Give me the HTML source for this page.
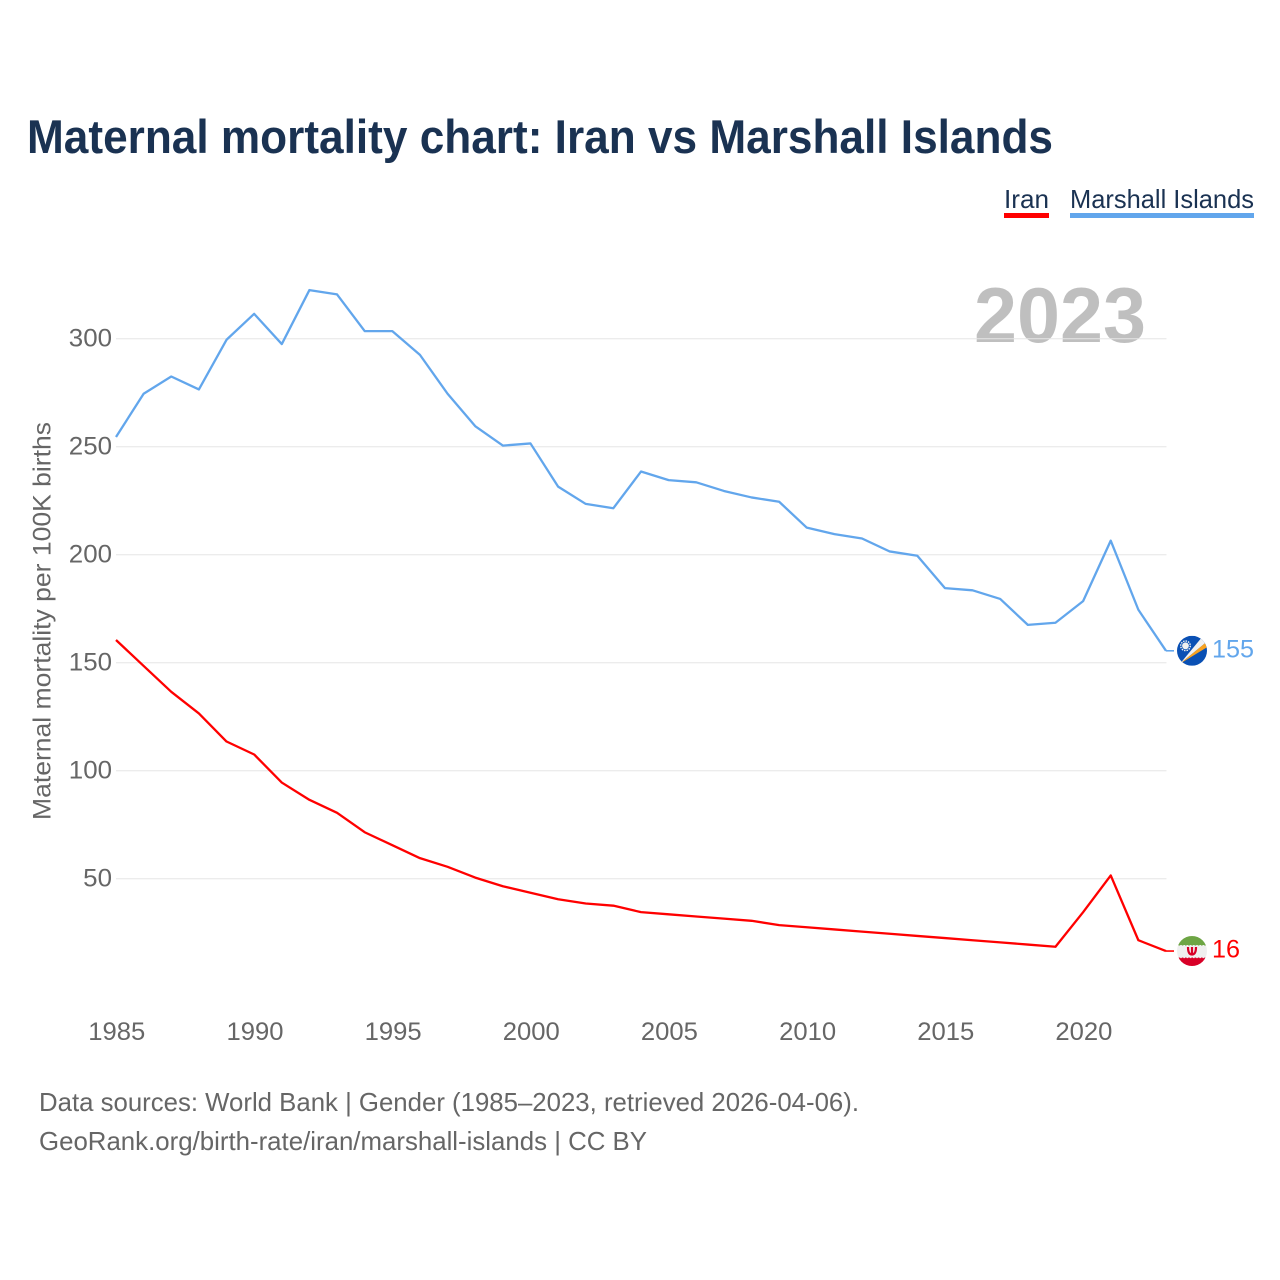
<!DOCTYPE html>
<html lang="en">
<head>
<meta charset="utf-8">
<title>Maternal mortality chart: Iran vs Marshall Islands</title>
<style>
  html, body { margin: 0; padding: 0; background: #fff; }
  svg { display: block; font-family: "Liberation Sans", sans-serif; }
</style>
</head>
<body>
<svg id="chart" xmlns="http://www.w3.org/2000/svg" width="1280" height="1280" viewBox="0 0 1280 1280">
  <defs>
    <clipPath id="flag-clip"><circle cx="0" cy="0" r="15"></circle></clipPath>
  </defs>
  <rect x="0" y="0" width="1280" height="1280" fill="#ffffff"></rect>
  <text x="27" y="153" font-size="47" font-weight="700" fill="#1a3252" textLength="1026" lengthAdjust="spacingAndGlyphs">Maternal mortality chart: Iran vs Marshall Islands</text>

  <g>
    <g>
      <text x="1004" y="208" font-size="26" fill="#1a3252" textLength="45" lengthAdjust="spacingAndGlyphs">Iran</text>
      <rect x="1004" y="213" width="45" height="5" fill="#ff0000"></rect>
    </g>
    <g>
      <text x="1070" y="208" font-size="26" fill="#1a3252" textLength="184" lengthAdjust="spacingAndGlyphs">Marshall Islands</text>
      <rect x="1070" y="213" width="184" height="5" fill="#62a6ec"></rect>
    </g>
  </g>

  <text x="1146" y="342" text-anchor="end" font-size="78" font-weight="700" fill="#000000" fill-opacity="0.25" textLength="172" lengthAdjust="spacingAndGlyphs">2023</text>

  <g id="grid"></g>
  <g id="y-ticks"></g>
  <g id="x-ticks"></g>

  <text transform="translate(50.5 820) rotate(-90)" x="0" y="0" font-size="25" fill="#666666" textLength="398" lengthAdjust="spacingAndGlyphs">Maternal mortality per 100K births</text>

  <g id="series"></g>

  <g id="flag-marshall">
    <g clip-path="url(#flag-clip)">
      <rect x="-15" y="-15" width="30" height="30" fill="#0a50b4"></rect>
      <polygon points="-12,13 9.5,-13 13,-7.5" fill="#f0f0f0"></polygon>
      <polygon points="-12,13 13,-7.5 15,-3.5" fill="#f9a21e"></polygon>
      <circle cx="-6.5" cy="-5" r="3.4" fill="#f0f0f0"></circle>
      <circle cx="-6.5" cy="-5" r="4.8" fill="none" stroke="#f0f0f0" stroke-width="1.4" stroke-dasharray="1.5 1"></circle>
    </g>
  </g>
  <g id="flag-iran">
    <g clip-path="url(#flag-clip)">
      <rect x="-15" y="-15" width="30" height="30" fill="#efefef"></rect>
      <rect x="-15" y="-15" width="30" height="9.5" fill="#6da544"></rect>
      <rect x="-15" y="6.5" width="30" height="9" fill="#d80027"></rect>
      <line x1="-15" x2="15" y1="-5.5" y2="-5.5" stroke="#efefef" stroke-width="1.2" stroke-dasharray="1.6 1.6"></line>
      <line x1="-15" x2="15" y1="6.5" y2="6.5" stroke="#efefef" stroke-width="1.2" stroke-dasharray="1.6 1.6"></line>
      <path d="M-4,-4 C-4,3 -1.5,3.5 0,3.5 C1.5,3.5 4,3 4,-4 M0,-4 L0,3.5" fill="none" stroke="#d80027" stroke-width="2.2"></path>
    </g>
  </g>
  <g id="end-labels"></g>

  <g>
    <text x="39" y="1111" font-size="26" fill="#666666" textLength="820" lengthAdjust="spacingAndGlyphs">Data sources: World Bank | Gender (1985–2023, retrieved 2026-04-06).</text>
    <text x="39" y="1150" font-size="26" fill="#666666" textLength="608" lengthAdjust="spacingAndGlyphs">GeoRank.org/birth-rate/iran/marshall-islands | CC BY</text>
  </g>
</svg>

<script>
const years = [1985,1986,1987,1988,1989,1990,1991,1992,1993,1994,1995,1996,1997,1998,1999,2000,2001,2002,2003,2004,2005,2006,2007,2008,2009,2010,2011,2012,2013,2014,2015,2016,2017,2018,2019,2020,2021,2022,2023];
const iranValues = [160,148,136,126,113,107,94,86,80,71,65,59,55,50,46,43,40,38,37,34,33,32,31,30,28,27,26,25,24,23,22,21,20,19,18,34,51,21,16];
const marshallValues = [254,274,282,276,299,311,297,322,320,303,303,292,274,259,250,251,231,223,221,238,234,233,229,226,224,212,209,207,201,199,184,183,179,167,168,178,206,174,155];
const yTickValues = [50,100,150,200,250,300];
const xTickValues = [1985,1990,1995,2000,2005,2010,2015,2020];

const SVG_NS = 'http://www.w3.org/2000/svg';
const plotLeft = 116, plotRight = 1166;
const xScale = function (year) { return plotLeft + (year - 1985) * (plotRight - plotLeft) / (2023 - 1985); };
const yScale = function (value) { return 986.7 - value * 2.16; };
const markY = function (value) { return yScale(value) - 1.1; };

function make(tag, attrs, parent, content) {
  const el = document.createElementNS(SVG_NS, tag);
  Object.keys(attrs).forEach(function (k) { el.setAttribute(k, attrs[k]); });
  if (content !== undefined) el.textContent = content;
  parent.appendChild(el);
  return el;
}

const gridGroup = document.getElementById('grid');
const yTickGroup = document.getElementById('y-ticks');
yTickValues.forEach(function (v) {
  const line = make('line', { x1: plotLeft, x2: plotRight + 0.5, y1: yScale(v), y2: yScale(v), stroke: '#e6e6e6', 'stroke-width': 1 }, gridGroup);
  
  
  const label = make('text', { x: 112, y: yScale(v) + 8, 'text-anchor': 'end', 'font-size': 25, fill: '#666666', textLength: String(v).length * 14.4, lengthAdjust: 'spacingAndGlyphs' }, yTickGroup, String(v));
  
  
});

const xTickGroup = document.getElementById('x-ticks');
xTickValues.forEach(function (yr) {
  const label = make('text', { x: xScale(yr) + 0.8, y: 1040, 'text-anchor': 'middle', 'font-size': 25, fill: '#666666', textLength: 57, lengthAdjust: 'spacingAndGlyphs' }, xTickGroup, String(yr));
  
  
});

function linePath(values) {
  return values.map(function (v, i) {
    return (i ? 'L' : 'M') + xScale(years[i]).toFixed(2) + ',' + markY(v).toFixed(2);
  }).join(' ');
}

const seriesGroup = document.getElementById('series');

const marshallLine = make('path', { d: linePath(marshallValues), fill: 'none', stroke: '#62a6ec', 'stroke-width': 2.3, 'stroke-linejoin': 'round' }, seriesGroup);



const iranLine = make('path', { d: linePath(iranValues), fill: 'none', stroke: '#ff0000', 'stroke-width': 2.3, 'stroke-linejoin': 'round' }, seriesGroup);



const endGroup = document.getElementById('end-labels');
const flagCenterX = 1192;

const marshallLast = marshallValues[marshallValues.length - 1];
const iranLast = iranValues[iranValues.length - 1];

document.getElementById('flag-marshall').setAttribute('transform', 'translate(' + flagCenterX + ' ' + markY(marshallLast) + ')');
document.getElementById('flag-iran').setAttribute('transform', 'translate(' + flagCenterX + ' ' + markY(iranLast) + ')');

const marshallConnector = make('line', { x1: plotRight, x2: 1174, y1: markY(marshallLast), y2: markY(marshallLast), stroke: '#62a6ec', 'stroke-width': 1.6 }, endGroup);



const iranConnector = make('line', { x1: plotRight, x2: 1174, y1: markY(iranLast), y2: markY(iranLast), stroke: '#ff0000', 'stroke-width': 1.6 }, endGroup);



const marshallEnd = make('text', { x: 1212, y: markY(marshallLast) + 6.7, 'font-size': 25, fill: '#62a6ec', textLength: String(marshallLast).length * 14, lengthAdjust: 'spacingAndGlyphs' }, endGroup, String(marshallLast));



const iranEnd = make('text', { x: 1212, y: markY(iranLast) + 6.7, 'font-size': 25, fill: '#ff0000', textLength: String(iranLast).length * 14, lengthAdjust: 'spacingAndGlyphs' }, endGroup, String(iranLast));


</script>
</body>
</html>
